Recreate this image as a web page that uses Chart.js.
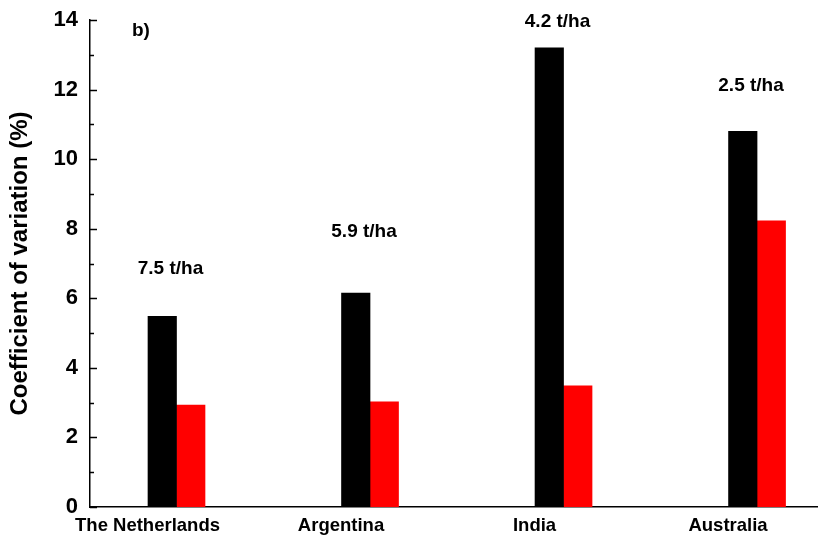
<!DOCTYPE html>
<html>
<head>
<meta charset="utf-8">
<script src="https://cdn.jsdelivr.net/npm/chart.js@4/dist/chart.umd.min.js"></script>
<style>
  html, body { margin: 0; padding: 0; background: #fff; }
  #wrap { width: 818px; height: 543px; position: relative; }
</style>
</head>
<body>
<div id="wrap"><canvas id="c"></canvas></div>
<script>
// ---- data ----
const categories = ["The Netherlands", "Argentina", "India", "Australia"];
const seriesBlack = [5.48, 6.15, 13.2, 10.8];
const seriesRed = [2.93, 3.02, 3.48, 8.23];
const yieldLabels = ["7.5 t/ha", "5.9 t/ha", "4.2 t/ha", "2.5 t/ha"];
const yieldLabelY = [6.85, 7.9, 13.95, 12.12];
const yTicks = [0, 2, 4, 6, 8, 10, 12, 14];
const panelLabel = "b)";
const yTitle = "Coefficient of variation (%)";

const FONT = "'Liberation Sans', Arial, sans-serif";

const toXY = arr => arr.map((v, i) => ({ x: i, y: v }));

const annotPlugin = {
  id: 'annot',
  afterDraw(chart) {
    const { ctx, scales: { x, y } } = chart;
    ctx.save();
    // inward ticks on y axis
    ctx.strokeStyle = '#000';
    ctx.lineWidth = 1.5;
    const left = chart.chartArea.left;
    for (let v = 0; v <= 14; v++) {
      const py = Math.round(y.getPixelForValue(v)) + 0.5;
      const len = v % 2 === 0 ? 7 : 4;
      ctx.beginPath();
      ctx.moveTo(left, py);
      ctx.lineTo(left + len, py);
      ctx.stroke();
    }
    // yield labels
    ctx.fillStyle = '#000';
    ctx.font = "bold 19px " + FONT;
    ctx.textAlign = 'center';
    ctx.textBaseline = 'middle';
    yieldLabels.forEach((t, i) => {
      ctx.fillText(t, x.getPixelForValue(i) - 6, y.getPixelForValue(yieldLabelY[i]));
    });
    // panel label
    ctx.font = "bold 19px " + FONT;
    ctx.textAlign = 'left';
    ctx.fillText(panelLabel, x.getPixelForValue(-0.23), y.getPixelForValue(13.7));
    ctx.restore();
  }
};

new Chart(document.getElementById('c'), {
  type: 'bar',
  data: {
    datasets: [
      { data: toXY(seriesBlack), backgroundColor: '#000000', borderWidth: 0 },
      { data: toXY(seriesRed), backgroundColor: '#ff0000', borderWidth: 0 }
    ]
  },
  options: {
    responsive: true,
    maintainAspectRatio: false,
    animation: false,
    barThickness: 28.5,
    layout: { padding: { top: 20, right: 0, left: 0, bottom: 0 } },
    plugins: { legend: { display: false }, tooltip: { enabled: false } },
    scales: {
      x: {
        type: 'linear',
        offset: false,
        min: -0.447,
        max: 3.315,
        afterBuildTicks: s => { s.ticks = categories.map((c, i) => ({ value: i })); },
        afterFit: s => { s.height = 36; s.paddingLeft = 0; s.paddingRight = 0; },
        grid: { display: false, drawTicks: false, offset: false },
        border: { display: true, color: '#000', width: 1.5 },
        ticks: {
          padding: 8,
          labelOffset: -29,
          maxRotation: 0,
          autoSkip: false,
          color: '#000',
          font: { family: FONT, size: 18.5, weight: 'bold' },
          callback: (v) => categories[v] ?? ''
        }
      },
      y: {
        min: 0,
        max: 14,
        afterBuildTicks: s => { s.ticks = yTicks.map(v => ({ value: v })); },
        afterFit: s => { s.width = 90; s.paddingTop = 0; s.paddingBottom = 0; },
        grid: { display: false, drawTicks: false },
        border: { display: true, color: '#000', width: 1.5 },
        ticks: {
          padding: 12,
          color: '#000',
          font: { family: FONT, size: 22, weight: 'bold' }
        },
        title: {
          display: true,
          text: yTitle,
          color: '#000',
          font: { family: FONT, size: 24, weight: 'bold' },
          padding: { top: 6, bottom: 0 }
        }
      }
    }
  },
  plugins: [annotPlugin]
});
</script>
</body>
</html>
